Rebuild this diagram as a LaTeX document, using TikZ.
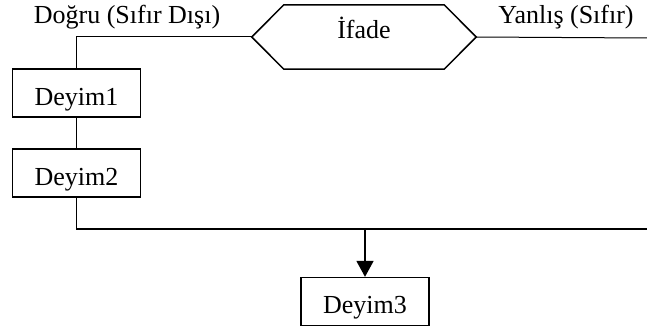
\documentclass[tikz,border=0pt]{standalone}
\usepackage{fontspec}
\setmainfont{Liberation Serif}
\usetikzlibrary{arrows.meta}
\begin{document}
\begin{tikzpicture}[x=1pt,y=-1pt,
  txt/.style={font=\fontsize{26}{30}\selectfont, inner sep=0pt},
  stepbox/.style={txt, draw, line width=1.3pt, minimum width=128pt,
     text height=36pt, text depth=12pt},
  thin/.style={line width=1pt},
  thick2/.style={line width=1.7pt}]
\useasboundingbox (0,0) rectangle (647,329);
% decision node
\node[txt, minimum width=224pt, text height=34pt, text depth=30pt] (ifade) at (364,37) {İfade};
\draw[line width=1.5pt, line join=miter]
  (ifade.west) -- ([xshift=32pt]ifade.north west) -- ([xshift=-32pt]ifade.north east)
  -- (ifade.east) -- ([xshift=-32pt]ifade.south east) -- ([xshift=32pt]ifade.south west) -- cycle;
% boxes
\node[stepbox] (d1) at (76.5,93) {Deyim1};
\node[stepbox] (d2) at (76.5,173) {Deyim2};
\node[stepbox] (d3) at (365,301.5) {Deyim3};
% labels
\node[txt, anchor=base] (lt) at (127,24) {Doğru (Sıfır Dışı)};
\node[txt, anchor=base] (lf) at (566,24) {Yanlış (Sıfır)};
% coordinates at the right edge
\coordinate (rt) at (647,38);
\coordinate (rb) at (647,229);
\coordinate (j) at (365,229);
% connectors
\draw[thin] (ifade.west) -| (d1.north);
\draw[thin] (d1.south) -- (d2.north);
\draw[thin] (ifade.east) -- (rt);
\draw[thick2] (d2.south) |- (rb);
\draw[thick2, -{Triangle[length=16pt,width=17pt]}] (j) -- (d3.north);
\end{tikzpicture}
\end{document}
